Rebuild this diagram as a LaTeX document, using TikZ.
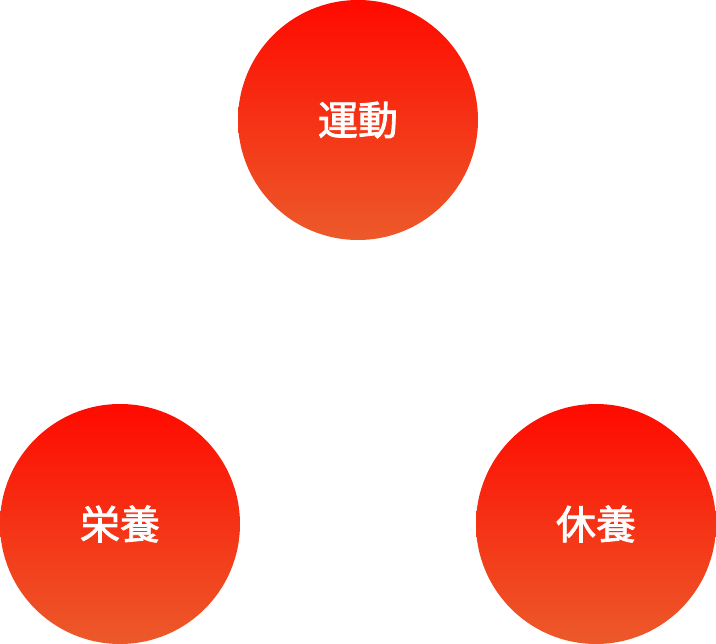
\documentclass[tikz,border=0pt]{standalone}
\usepackage{fontspec}
\newfontfamily\cjk{Noto Sans CJK JP}[FakeBold=2]
\definecolor{topred}{HTML}{FF0A00}
\definecolor{botorange}{HTML}{EC5A2A}
\begin{document}
\begin{tikzpicture}[x=1pt,y=-1pt,
  ball/.style={circle,minimum size=240pt,inner sep=0pt,top color=topred,bottom color=botorange,shading angle=0,
    text=white,font=\cjk\fontsize{40}{42}\selectfont}]
\useasboundingbox (0,0) rectangle (716,644);
\node[ball] (undo) at (358,120) {運動};
\node[ball] (eiyo) at (120,524) {栄養};
\node[ball] (kyuyo) at (596,524) {休養};
\end{tikzpicture}
\end{document}
